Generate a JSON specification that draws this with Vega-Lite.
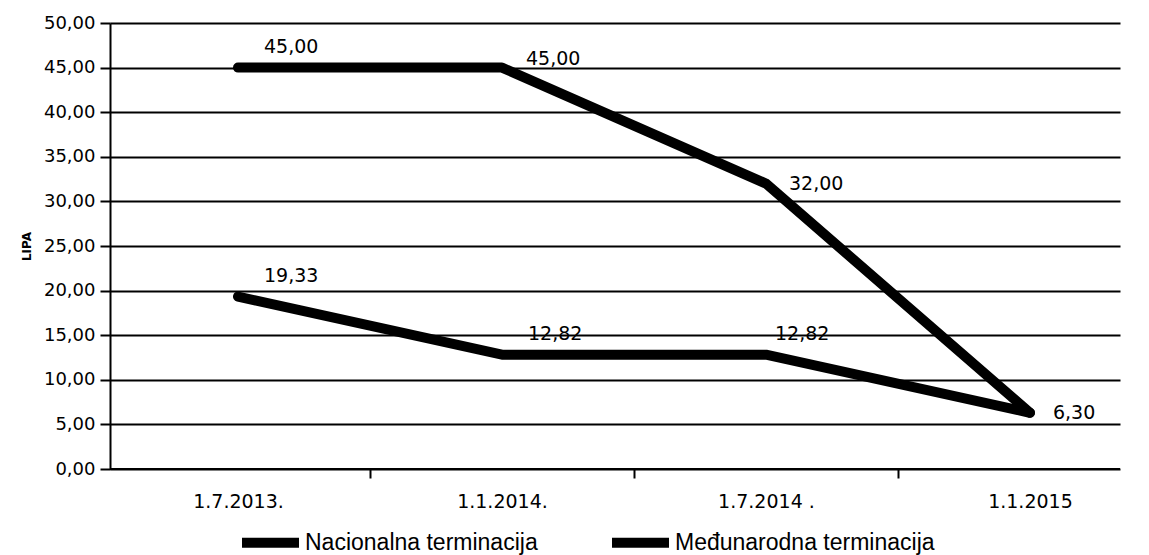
{
  "$schema": "https://vega.github.io/schema/vega-lite/v6.json",
  "autosize": "none",
  "width": 1010,
  "height": 446,
  "padding": {"top": 23, "left": 110, "right": 29, "bottom": 86},
  "background": "white",
  "config": {
    "locale": {"number": {"decimal": ",", "thousands": ".", "grouping": [3], "currency": ["", " KM"]}},
    "font": "DejaVu Sans",
    "view": {"stroke": null}
  },
  "data": {
    "values": [
      {"datum": "1.7.2013.", "serija": "Nacionalna terminacija", "cijena": 19.33},
      {"datum": "1.1.2014.", "serija": "Nacionalna terminacija", "cijena": 12.82},
      {"datum": "1.7.2014 .", "serija": "Nacionalna terminacija", "cijena": 12.82},
      {"datum": "1.1.2015", "serija": "Nacionalna terminacija", "cijena": 6.30},
      {"datum": "1.7.2013.", "serija": "Međunarodna terminacija", "cijena": 45.00},
      {"datum": "1.1.2014.", "serija": "Međunarodna terminacija", "cijena": 45.00},
      {"datum": "1.7.2014 .", "serija": "Međunarodna terminacija", "cijena": 32.00},
      {"datum": "1.1.2015", "serija": "Međunarodna terminacija", "cijena": 6.30}
    ]
  },
  "encoding": {
    "x": {
      "field": "datum", "type": "nominal", "sort": null,
      "scale": {"type": "point", "padding": 0.413, "align": 0.587},
      "axis": {"title": null, "labelAngle": 0, "ticks": true, "tickOffset": 132, "labelOffset": -132, "tickSize": 9, "tickColor": "black", "tickWidth": 2, "labelPadding": 14, "labelFontSize": 19, "labelColor": "black", "domain": false, "grid": false}
    },
    "y": {
      "field": "cijena", "type": "quantitative",
      "scale": {"domain": [0, 50], "nice": false},
      "axis": {
        "title": "LIPA", "titleFontSize": 12, "titleFontWeight": "bold", "titleColor": "black", "titlePadding": 10,
        "values": [0, 5, 10, 15, 20, 25, 30, 35, 40, 45, 50],
        "format": ".2f", "labelFontSize": 18, "labelColor": "black", "labelPadding": 5,
        "tickSize": 10, "tickColor": "black", "tickWidth": 2,
        "domainColor": "black", "domainWidth": 2,
        "grid": true, "gridColor": "black", "gridWidth": 2, "gridOpacity": 1
      }
    }
  },
  "layer": [
    {
      "mark": {"type": "rule", "color": "black", "strokeWidth": 2},
      "encoding": {"y": {"datum": 0}, "x": null}
    },
    {
      "mark": {"type": "line", "strokeWidth": 10, "strokeJoin": "round", "strokeCap": "round"},
      "encoding": {
        "color": {
          "field": "serija", "type": "nominal",
          "scale": {"domain": ["Nacionalna terminacija", "Međunarodna terminacija"], "range": ["black", "black"]},
          "legend": {
            "title": null, "orient": "none", "direction": "horizontal",
            "legendX": 127, "legendY": 486,
            "symbolType": "stroke", "symbolStrokeWidth": 10, "symbolSize": 3249,
            "labelFont": "Liberation Sans", "labelFontSize": 23, "labelColor": "black", "labelOffset": 1,
            "labelLimit": 400, "columnPadding": 54
          }
        }
      }
    },
    {
      "transform": [{"filter": "(datum.serija == 'Nacionalna terminacija' && datum.datum != '1.7.2014 .' && datum.datum != '1.1.2015') || (datum.serija == 'Međunarodna terminacija' && datum.datum == '1.7.2013.')"}],
      "mark": {"type": "text", "align": "left", "baseline": "middle", "dx": 26, "dy": -21, "fontSize": 19, "color": "black"},
      "encoding": {"text": {"field": "cijena", "type": "quantitative", "format": ".2f"}}
    },
    {
      "transform": [{"filter": "datum.serija == 'Nacionalna terminacija' && datum.datum == '1.7.2014 .'"}],
      "mark": {"type": "text", "align": "left", "baseline": "middle", "dx": 9, "dy": -21, "fontSize": 19, "color": "black"},
      "encoding": {"text": {"field": "cijena", "type": "quantitative", "format": ".2f"}}
    },
    {
      "transform": [{"filter": "datum.serija == 'Međunarodna terminacija' && datum.datum == '1.1.2014.'"}],
      "mark": {"type": "text", "align": "left", "baseline": "middle", "dx": 24, "dy": -9, "fontSize": 19, "color": "black"},
      "encoding": {"text": {"field": "cijena", "type": "quantitative", "format": ".2f"}}
    },
    {
      "transform": [{"filter": "(datum.serija == 'Međunarodna terminacija' && datum.datum == '1.7.2014 .') || (datum.serija == 'Nacionalna terminacija' && datum.datum == '1.1.2015')"}],
      "mark": {"type": "text", "align": "left", "baseline": "middle", "dx": 23, "dy": 0, "fontSize": 19, "color": "black"},
      "encoding": {"text": {"field": "cijena", "type": "quantitative", "format": ".2f"}}
    }
  ]
}
